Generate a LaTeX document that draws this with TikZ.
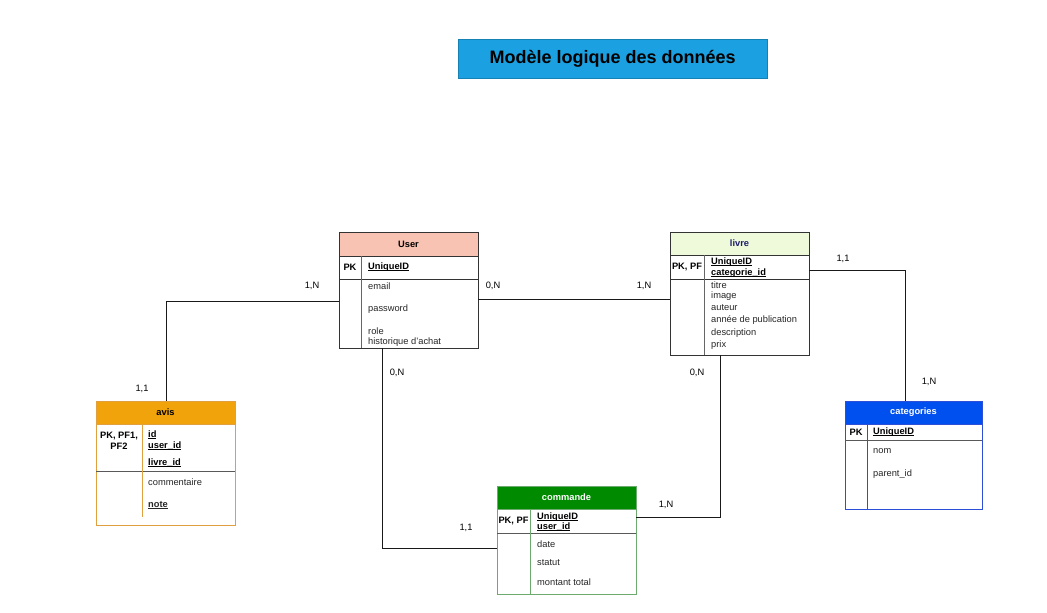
\documentclass[tikz,border=0pt]{standalone}
\usepackage{fontspec}
\setmainfont{Liberation Sans}
\usepackage{tikz}
\usetikzlibrary{positioning,calc}
\definecolor{titleblue}{HTML}{1BA1E2}
\definecolor{userfill}{HTML}{F9C3B3}
\definecolor{livrefill}{HTML}{EEFAD9}
\definecolor{livretext}{HTML}{1C1C6E}
\definecolor{avisfill}{HTML}{F0A30A}
\definecolor{avisline}{HTML}{E0A040}
\definecolor{catfill}{HTML}{0050EF}
\definecolor{catline}{HTML}{2D4FD8}
\definecolor{cmdfill}{HTML}{008A00}
\definecolor{cmdline}{HTML}{6DAA6D}
\newcommand{\keyline}[1]{\setbox0\hbox{#1}\rlap{\rule[-1.3pt]{\wd0}{0.6pt}}\box0}
\tikzset{
  tbl/.style={draw=#1, line width=0.9pt, inner sep=0pt, anchor=north west},
  hdr/.style={font=\fontsize{9.3}{10}\selectfont\bfseries, inner sep=0pt},
  key/.style={font=\fontsize{9.3}{10.5}\selectfont\bfseries, inner sep=0pt, align=center},
  fld/.style={font=\fontsize{9.3}{10}\selectfont, text=black!85, anchor=west, inner sep=0pt},
  idfld/.style={fld, font=\fontsize{9.3}{10}\selectfont\bfseries, text=black},
  card/.style={font=\fontsize{9.3}{10}\selectfont, inner sep=0pt},
  link/.style={draw=black!90, line width=0.7pt},
  sep/.style={draw=black!60, line width=0.7pt}
}
\begin{document}
\begin{tikzpicture}[x=1pt,y=-1pt]
\useasboundingbox (0,0) rectangle (1047,613);
% ==========================================
\node[draw=titleblue!80!black, fill=titleblue, minimum width=309, minimum height=39,
  inner sep=0pt, anchor=north west, font=\fontsize{18}{20}\selectfont\bfseries] (title) at (458,39) {Mod\`ele logique des donn\'ees};
% ==========================================
% User
\node[tbl=black!80, minimum width=139, minimum height=116] (user) at (339,232) {};
\filldraw[fill=userfill, draw=black!80, line width=0.9pt] (339,232) rectangle (478,256);
\node[hdr] (userh) at (408.5,244) {User};
\draw[black!80, line width=0.9pt] (339,279) -- (478,279);
\draw[sep] (361,256) -- (361,348);
\node[key] (userpk) at (350,267) {PK};
\node[idfld] (useruid) at (368,267) {\keyline{UniqueID}};
\node[fld] (useremail) at (368,286) {email};
\node[fld] (userpwd) at (368,309) {password};
\node[fld] (userrole) at (368,331) {role};
\node[fld] (userhist) at (368,342) {historique d'achat};
% ==========================================
% livre
\node[tbl=black!80, minimum width=139, minimum height=123] (livre) at (670,232) {};
\filldraw[fill=livrefill, draw=black!80, line width=0.9pt] (670,232) rectangle (809,255);
\node[hdr, text=livretext] (livreh) at (739.5,243.5) {livre};
\draw[black!80, line width=0.9pt] (670,279) -- (809,279);
\draw[sep] (704,255) -- (704,355);
\node[key] (livrepk) at (687,267) {PK, PF};
\node[idfld] (livreuid) at (711,262) {\keyline{UniqueID}};
\node[idfld] (livrecat) at (711,273) {\keyline{categorie\_id}};
\node[fld] (livretitre) at (711,285) {titre};
\node[fld] (livreimg) at (711,296) {image};
\node[fld] (livreaut) at (711,308) {auteur};
\node[fld] (livreannee) at (711,320) {ann\'ee de publication};
\node[fld] (livredesc) at (711,333) {description};
\node[fld] (livreprix) at (711,345) {prix};
% ==========================================
% avis
\node[tbl=avisline, minimum width=139, minimum height=124] (avis) at (96,401) {};
\filldraw[fill=avisfill, draw=avisline, line width=0.9pt] (96,401) rectangle (235,424);
\node[hdr] (avish) at (165.5,412.5) {avis};
\draw[black!65, line width=0.9pt] (96,471) -- (235,471);
\draw[draw=avisline, line width=0.7pt] (142,424) -- (142,517);
\node[key] (avispk) at (119,441) {PK, PF1,\\PF2};
\node[idfld] (avisid) at (148,435) {\keyline{id}};
\node[idfld] (avisuser) at (148,446) {\keyline{user\_id}};
\node[idfld] (avislivre) at (148,463) {\keyline{livre\_id}};
\node[fld] (aviscom) at (148,482) {commentaire};
\node[idfld, text=black!85] (avisnote) at (148,505) {\keyline{note}};
% ==========================================
% categories
\node[tbl=catline, minimum width=137, minimum height=108] (cat) at (845,401) {};
\filldraw[fill=catfill, draw=catline, line width=0.9pt] (845,401) rectangle (982,424);
\node[hdr, text=white] (cath) at (913.5,412.5) {categories};
\draw[black!65, line width=0.9pt] (845,440) -- (982,440);
\draw[draw=catline, line width=0.7pt] (867,424) -- (867,509);
\node[key] (catpk) at (856,432) {PK};
\node[idfld] (catuid) at (873,432) {\keyline{UniqueID}};
\node[fld] (catnom) at (873,451) {nom};
\node[fld] (catparent) at (873,474) {parent\_id};
% ==========================================
% commande
\node[tbl=cmdline, minimum width=139, minimum height=108] (cmd) at (497,486) {};
\filldraw[fill=cmdfill, draw=cmdline, line width=0.9pt] (497,486) rectangle (636,509);
\node[hdr, text=white] (cmdh) at (566.5,497.5) {commande};
\draw[black!65, line width=0.9pt] (497,533) -- (636,533);
\draw[draw=cmdline, line width=0.7pt] (530,509) -- (530,594);
\node[key] (cmdpk) at (513.5,521) {PK, PF};
\node[idfld] (cmduid) at (537,517) {\keyline{UniqueID}};
\node[idfld] (cmduser) at (537,527) {\keyline{user\_id}};
\node[fld] (cmddate) at (537,544) {date};
\node[fld] (cmdstatut) at (537,563) {statut};
\node[fld] (cmdmontant) at (537,582) {montant total};
% ==========================================
% liens
\coordinate (userW) at (339,301);
\coordinate (userE) at (478,299);
\coordinate (userS) at (382,348);
\coordinate (livreW) at (670,299);
\coordinate (livreE) at (809,270);
\coordinate (livreS) at (720,355);
\coordinate (catN) at (905,401);
\coordinate (cmdW) at (497,548);
\coordinate (cmdE) at (636,517);
\draw[link] (userW) -| (avis.north);
\draw[link] (userE) -- (livreW);
\draw[link] (livreE) -| (catN);
\draw[link] (userS) |- (cmdW);
\draw[link] (livreS) |- (cmdE);
%
\node[card] (c1) at (312,286) {1,N};
\node[card] (c2) at (142,389) {1,1};
\node[card] (c3) at (493,286) {0,N};
\node[card] (c4) at (644,286) {1,N};
\node[card] (c5) at (843,259) {1,1};
\node[card] (c6) at (929,382) {1,N};
\node[card] (c7) at (397,373) {0,N};
\node[card] (c8) at (466,528) {1,1};
\node[card] (c9) at (697,373) {0,N};
\node[card] (c10) at (666,505) {1,N};
% =============================================
\end{tikzpicture}
\end{document}
